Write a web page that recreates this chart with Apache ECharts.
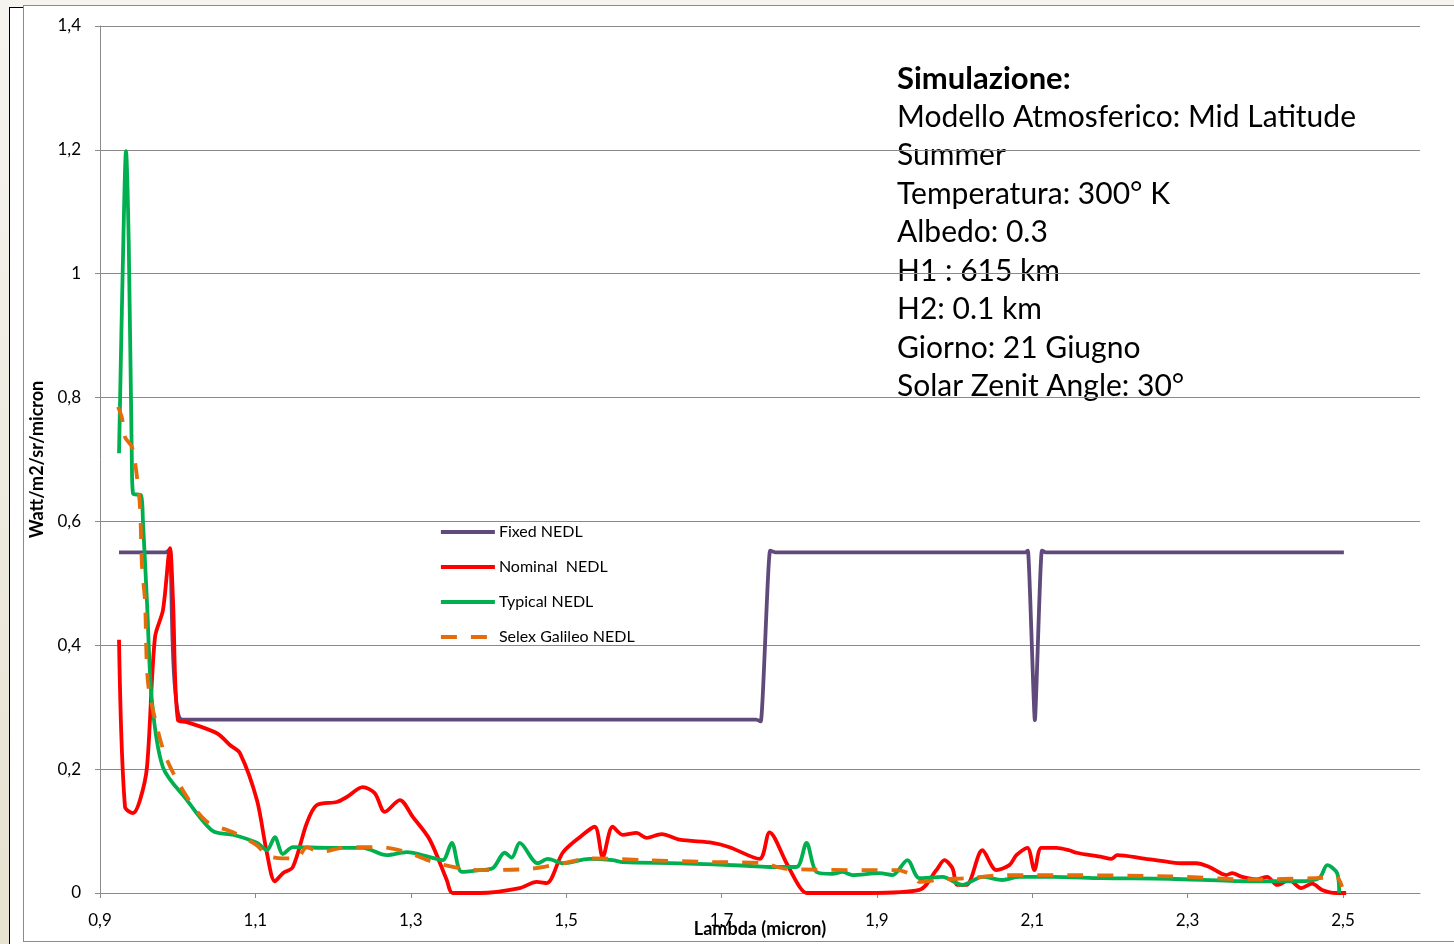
<!DOCTYPE html>
<html>
<head>
<meta charset="utf-8">
<title>NEDL</title>
<script src="https://cdn.jsdelivr.net/npm/echarts@6/dist/echarts.min.js"></script>
<style>
  html, body { margin: 0; padding: 0; }
  body {
    width: 1454px; height: 944px; overflow: hidden; position: relative;
    background: linear-gradient(#f5f4ef, #e6e1d0);
  }
  #sheet {
    position: absolute; left: 9px; top: 7px; width: 1500px; height: 1000px;
    border-left: 1.5px solid #000; border-top: 1.5px solid #000; background: #fff;
  }
  #frame {
    position: absolute; left: 23px; top: 5px; width: 1500px; height: 935px;
    border: 1.5px solid #8c8c8c; background: #fff;
  }
  #chart { position: absolute; left: 0; top: 0; width: 1454px; height: 944px; }
</style>
</head>
<body>
<div id="sheet"></div>
<div id="frame"></div>
<div id="chart"></div>
<script>
// Wavelength (micron) / radiance (Watt/m2/sr/micron) pairs for each NEDL curve
const fixedNedl = [
  [0.9245,0.55],[0.985,0.55],[0.990,0.555],[1.006,0.28],[1.745,0.28],[1.751,0.277],
  [1.763,0.553],[1.770,0.55],[2.092,0.55],[2.095,0.553],[2.104,0.279],[2.113,0.553],
  [2.118,0.55],[2.502,0.55]
];
const nominalNedl = [
  [0.9245,0.409],[0.9322,0.139],[0.9425,0.129],[0.9515,0.15],[0.9605,0.203],[0.9708,0.413],
  [0.9811,0.457],[0.9901,0.557],[0.9940,0.473],[1.0004,0.279],[1.0120,0.276],[1.0506,0.258],
  [1.0673,0.239],[1.0802,0.226],[1.1021,0.15],[1.1149,0.065],[1.1252,0.019],[1.1355,0.032],
  [1.1484,0.042],[1.1664,0.113],[1.1793,0.142],[1.2050,0.147],[1.2179,0.155],[1.2385,0.171],
  [1.2539,0.161],[1.2668,0.131],[1.2861,0.15],[1.3028,0.123],[1.3247,0.086],[1.3466,0.021],
  [1.3543,0.0],[1.3891,0.0],[1.4405,0.008],[1.4624,0.018],[1.4753,0.016],[1.4959,0.065],
  [1.5178,0.09],[1.5371,0.107],[1.5474,0.058],[1.5602,0.107],[1.5731,0.094],[1.5911,0.097],
  [1.6040,0.089],[1.6233,0.095],[1.6465,0.086],[1.6889,0.081],[1.7108,0.074],[1.7494,0.055],
  [1.7623,0.098],[1.7842,0.048],[1.8009,0.01],[1.8099,0.0],[1.8910,0.0],[1.9553,0.005],
  [1.9772,0.037],[1.9875,0.053],[1.9978,0.040],[2.0042,0.013],[2.0158,0.013],[2.0364,0.069],
  [2.0544,0.037],[2.0712,0.045],[2.0802,0.061],[2.0943,0.073],[2.1034,0.037],[2.1124,0.073],
  [2.1317,0.073],[2.1484,0.069],[2.1574,0.065],[2.1908,0.058],[2.2024,0.055],[2.2102,0.061],
  [2.2423,0.056],[2.2771,0.05],[2.2938,0.048],[2.3118,0.048],[2.3286,0.042],[2.3504,0.029],
  [2.3581,0.032],[2.3710,0.026],[2.3890,0.022],[2.4032,0.026],[2.4161,0.013],[2.4315,0.021],
  [2.4470,0.008],[2.4611,0.015],[2.4740,0.005],[2.4920,0.0],[2.5049,0.0]
];
const typicalNedl = [
  [0.9245,0.71],[0.9300,1.05],[0.9335,1.198],[0.9370,1.05],[0.9410,0.70],[0.9425,0.645],
  [0.9528,0.642],[0.9553,0.60],[0.9605,0.47],[0.9669,0.31],[0.9811,0.203],[1.0120,0.15],
  [1.0454,0.10],[1.0712,0.094],[1.1021,0.081],[1.1149,0.069],[1.1252,0.09],[1.1355,0.063],
  [1.1484,0.074],[1.1960,0.073],[1.2385,0.073],[1.2694,0.061],[1.2951,0.066],[1.3247,0.058],
  [1.3414,0.053],[1.3530,0.081],[1.3659,0.034],[1.3891,0.037],[1.4058,0.040],[1.4212,0.065],
  [1.4303,0.057],[1.4405,0.081],[1.4637,0.048],[1.4766,0.055],[1.4959,0.048],[1.5306,0.055],
  [1.5602,0.053],[1.5731,0.050],[1.6465,0.048],[1.7327,0.044],[1.7662,0.042],[1.7970,0.042],
  [1.8099,0.081],[1.8228,0.034],[1.8434,0.031],[1.8562,0.034],[1.8691,0.029],[1.9039,0.032],
  [1.9206,0.029],[1.9399,0.053],[1.9553,0.024],[1.9849,0.026],[2.0107,0.013],[2.0364,0.026],
  [2.0622,0.021],[2.0840,0.026],[2.1265,0.026],[2.1908,0.024],[2.2771,0.023],[2.3800,0.019],
  [2.4444,0.019],[2.4702,0.024],[2.4805,0.045],[2.4933,0.032],[2.4959,0.0]
];
const selexGalileoNedl = [
  [0.9232,0.785],[0.9283,0.767],[0.9322,0.736],[0.9412,0.72],[0.9476,0.672],[0.9515,0.623],
  [0.9541,0.527],[0.9579,0.473],[0.9618,0.34],[0.9734,0.268],[0.9862,0.215],[1.0120,0.155],
  [1.0377,0.115],[1.0712,0.098],[1.1021,0.077],[1.1149,0.061],[1.1355,0.056],[1.1535,0.056],
  [1.1664,0.074],[1.1831,0.066],[1.2179,0.074],[1.2604,0.074],[1.2951,0.066],[1.3286,0.05],
  [1.3633,0.040],[1.3891,0.037],[1.4534,0.039],[1.4959,0.048],[1.5306,0.056],[1.6040,0.053],
  [1.6889,0.05],[1.7533,0.048],[1.7842,0.039],[1.9039,0.037],[1.9258,0.037],[1.9463,0.029],
  [1.9553,0.018],[1.9849,0.022],[2.0197,0.024],[2.0622,0.029],[2.1059,0.029],[2.2771,0.027],
  [2.3800,0.022],[2.4663,0.024],[2.4920,0.026],[2.4997,0.01]
];

const seriesNames = ['Fixed NEDL', 'Nominal  NEDL', 'Typical NEDL', 'Selex Galileo NEDL'];
const seriesColors = ['#604a7b', '#ff0000', '#00b050', '#e46c0a'];

const infoTitle = 'Simulazione:';
const infoLines = [
  'Modello Atmosferico: Mid Latitude',
  'Summer',
  'Temperatura: 300° K',
  'Albedo: 0.3',
  'H1 : 615 km',
  'H2: 0.1 km',
  'Giorno: 21 Giugno',
  'Solar Zenit Angle: 30°'
];

const FONT = 'Lato, "Open Sans", sans-serif';
const GRID_GRAY = '#8a8a8a';
const commaNum = v => String(+v.toFixed(1)).replace('.', ',');

const chart = echarts.init(document.getElementById('chart'), null, { renderer: 'canvas' });

// Simulation parameters block, top right of the plot
const infoGraphics = [{
  type: 'text', left: 897, top: 63,
  style: { text: infoTitle, font: 'bold 31px ' + FONT, fill: '#000' }
}].concat(infoLines.map((t, i) => ({
  type: 'text', left: 897, top: 102 + i * 38.5,
  style: { text: t, font: '30px ' + FONT, fill: '#000' }
})));

const lineSeries = [fixedNedl, nominalNedl, typicalNedl, selexGalileoNedl].map((d, i) => ({
  name: seriesNames[i],
  type: 'line',
  xAxisIndex: 0,
  yAxisIndex: 0,
  data: d,
  symbol: 'none',
  smooth: i === 0 ? 0.15 : 0.3,
  color: seriesColors[i],
  lineStyle: {
    width: 3.8,
    color: seriesColors[i],
    type: i === 3 ? [16, 14] : 'solid',
    cap: 'butt',
    join: 'round'
  },
  emphasis: { disabled: true },
  z: 2 + i
}));

chart.setOption({
  animation: false,
  backgroundColor: 'transparent',
  textStyle: { fontFamily: FONT },
  grid: [
    { left: 100, right: 34, top: 26, bottom: 51, outerBoundsMode: 'none' },
    { left: 100, width: 1243, top: 26, bottom: 51, outerBoundsMode: 'none' }
  ],
  legend: {
    orient: 'vertical',
    left: 439,
    top: 524,
    padding: 0,
    itemWidth: 54,
    itemHeight: 14,
    itemGap: 19,
    data: seriesNames,
    itemStyle: { opacity: 0 },
    lineStyle: { width: 3.8 },
    textStyle: { fontSize: 16, color: '#000', fontFamily: FONT, padding: [0, 0, 0, -1] },
    selectedMode: false
  },
  xAxis: [
    {
      gridIndex: 0, type: 'value', min: 0.9, max: 2.6,
      axisLine: { show: true, onZero: false, lineStyle: { color: GRID_GRAY, width: 1 } },
      axisTick: { show: false }, axisLabel: { show: false }, splitLine: { show: false },
      name: 'Lambda (micron)', nameLocation: 'middle', nameGap: 27,
      nameTextStyle: { fontSize: 18, fontWeight: 'bold', color: '#000', fontFamily: FONT }
    },
    {
      gridIndex: 1, type: 'value', min: 0.9, max: 2.5, interval: 0.2,
      axisLine: { show: false, onZero: false },
      axisTick: { show: true, length: 5, lineStyle: { color: GRID_GRAY, width: 1 } },
      axisLabel: { margin: 19, fontSize: 17, color: '#000', fontFamily: FONT, formatter: commaNum },
      splitLine: { show: false }
    }
  ],
  yAxis: [
    {
      gridIndex: 0, type: 'value', min: 0, max: 1.4, interval: 0.2,
      axisLine: { show: true, lineStyle: { color: GRID_GRAY, width: 1 } },
      axisTick: { show: true, length: 5, lineStyle: { color: GRID_GRAY, width: 1 } },
      axisLabel: { margin: 19, fontSize: 17, color: '#000', fontFamily: FONT, formatter: commaNum },
      splitLine: { show: true, lineStyle: { color: GRID_GRAY, width: 1 } },
      name: 'Watt/m2/sr/micron', nameLocation: 'middle', nameGap: 46,
      nameTextStyle: { fontSize: 18, fontWeight: 'bold', color: '#000', fontFamily: FONT }
    },
    { gridIndex: 1, type: 'value', min: 0, max: 1.4, show: false }
  ],
  series: lineSeries,
  graphic: infoGraphics
});
</script>
</body>
</html>
